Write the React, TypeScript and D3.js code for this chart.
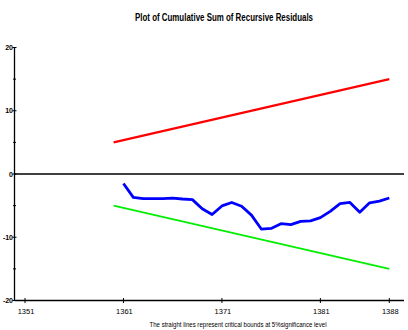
import React from 'react';
import * as d3 from 'd3';

const years = [1361, 1362, 1363, 1364, 1365, 1366, 1367, 1368, 1369, 1370, 1371, 1372, 1373, 1374,
  1375, 1376, 1377, 1378, 1379, 1380, 1381, 1382, 1383, 1384, 1385, 1386, 1387, 1388];
const cusum = [-1.5, -3.7, -3.9, -3.9, -3.9, -3.8, -3.95, -4.05, -5.5, -6.4, -5.05, -4.5, -5.1, -6.5,
  -8.7, -8.6, -7.85, -8.0, -7.5, -7.4, -6.9, -5.9, -4.7, -4.5, -6.05, -4.55, -4.3, -3.8];
const boundYears = [1360, 1388];
const upperBound = [5, 15];
const lowerBound = [-5, -15];
const xTicks = [1351, 1361, 1371, 1381, 1388];
const yMajor = [20, 10, 0, -10, -20];
const yMinor = [15, 5, -5, -15];

const W = 408, H = 330;
const axisX = 14.5, axisEnd = 404;

export default function App() {
  const x = d3.scaleLinear().domain([1351, 1388]).range([25, 389.3]);
  const y = d3.scaleLinear().domain([-20, 20]).range([300.5, 47.5]);
  const line = d3.line<[number, number]>().x(d => x(d[0])).y(d => y(d[1]));
  const blue = line(years.map((t, i) => [t, cusum[i]] as [number, number]));
  const up = line(boundYears.map((t, i) => [t, upperBound[i]] as [number, number]));
  const lo = line(boundYears.map((t, i) => [t, lowerBound[i]] as [number, number]));
  const tickFont = '"Liberation Sans Narrow", "Liberation Sans", Arial, sans-serif';
  return (
    <svg width={W} height={H} style={{ position: 'absolute', left: 0, top: 0, background: '#fff' }}>
      <text x={224} y={21} textAnchor="middle" fontFamily={tickFont} fontWeight="bold" fontSize={11}
        textLength={178} lengthAdjust="spacingAndGlyphs">Plot of Cumulative Sum of Recursive Residuals</text>

      {/* bounds and series */}
      <path d={up ?? ''} fill="none" stroke="#ff0000" strokeWidth={2.2} />
      <path d={lo ?? ''} fill="none" stroke="#00ee00" strokeWidth={1.6} />
      <path d={blue ?? ''} fill="none" stroke="#0000ff" strokeWidth={2.8} strokeLinejoin="round" />

      {/* axes */}
      <line x1={axisX} x2={axisX} y1={y(20)} y2={y(-20)} stroke="#000" strokeWidth={1.3} />
      <line x1={axisX} x2={axisEnd} y1={y(-20)} y2={y(-20)} stroke="#000" strokeWidth={1.5} />
      <line x1={axisX} x2={axisEnd} y1={y(0)} y2={y(0)} stroke="#000" strokeWidth={1.6} />

      {yMajor.map(v => (
        <g key={'ym' + v}>
          <line x1={axisX - 2} x2={axisX + 2} y1={y(v)} y2={y(v)} stroke="#000" strokeWidth={1} />
          <text x={axisX - 1.5} y={y(v) + 2.5} textAnchor="end" fontFamily={tickFont} fontWeight="bold"
            fontSize={7}>{v}</text>
        </g>
      ))}
      {yMinor.map(v => (
        <line key={'yn' + v} x1={axisX - 1.5} x2={axisX + 1.5} y1={y(v)} y2={y(v)} stroke="#000" strokeWidth={1} />
      ))}

      {xTicks.map(t => (
        <g key={'xt' + t}>
          <line x1={x(t)} x2={x(t)} y1={y(-20) - 2.5} y2={y(-20) + 2.5} stroke="#000" strokeWidth={1} />
          <text x={x(t) + 1} y={314} textAnchor="middle" fontFamily={tickFont} fontSize={7.5}>{t}</text>
        </g>
      ))}

      <text x={238} y={327} textAnchor="middle" fontFamily={tickFont} fontSize={7.5}
        textLength={177} lengthAdjust="spacingAndGlyphs">The straight lines represent critical bounds at 5%significance level</text>
    </svg>
  );
}
